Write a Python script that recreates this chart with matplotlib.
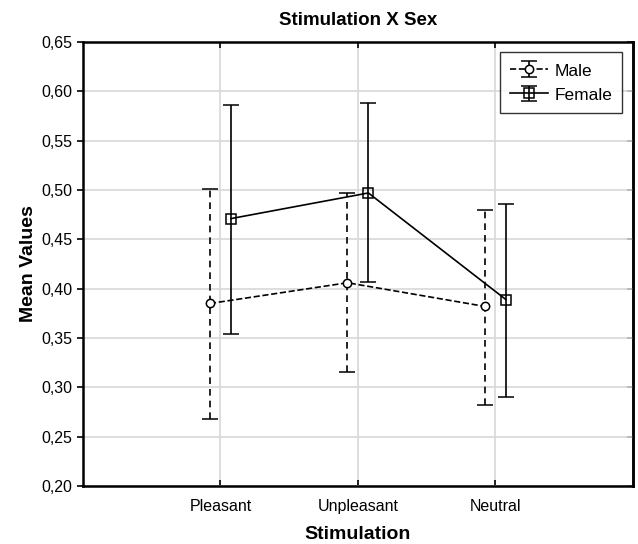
import numpy as np
import matplotlib.pyplot as plt
from matplotlib.ticker import FuncFormatter, MultipleLocator
from matplotlib.legend_handler import HandlerErrorbar
from matplotlib.container import ErrorbarContainer

plt.rcParams['font.family'] = ['Liberation Sans', 'DejaVu Sans']

categories = ['Pleasant', 'Unpleasant', 'Neutral']
male_mean = [0.385, 0.406, 0.382]
male_low = [0.268, 0.316, 0.282]
male_high = [0.501, 0.497, 0.480]
female_mean = [0.471, 0.497, 0.389]
female_low = [0.354, 0.407, 0.290]
female_high = [0.586, 0.588, 0.486]

x = np.arange(1, len(categories) + 1)
shift = 0.076

fig = plt.figure(figsize=(6.38, 5.44), dpi=100)
ax = fig.add_axes([0.130, 0.1066, 0.862, 0.8162])

m = np.array(male_mean)
f = np.array(female_mean)
male = ax.errorbar(x - shift, m,
                   yerr=[m - np.array(male_low), np.array(male_high) - m],
                   color='black', ls='--', lw=1.2, marker='o', ms=6,
                   mfc='white', mec='black', mew=1.1,
                   capsize=5.5, capthick=1.2, elinewidth=1.2, label='Male')
male[2][0].set_linestyle((0, (4, 3)))
female = ax.errorbar(x + shift, f,
                     yerr=[f - np.array(female_low), np.array(female_high) - f],
                     color='black', ls='-', lw=1.2, marker='s', ms=6.5,
                     mfc='none', mec='black', mew=1.1,
                     capsize=5.5, capthick=1.2, elinewidth=1.2, label='Female')

ax.set_xlim(0, 4)
ax.set_ylim(0.20, 0.65)
ax.set_xticks(x)
ax.set_xticklabels(categories, fontsize=11.5)
ax.yaxis.set_major_locator(MultipleLocator(0.05))
ax.yaxis.set_major_formatter(FuncFormatter(lambda v, p: f'{v:.2f}'.replace('.', ',')))
ax.tick_params(axis='y', labelsize=11.5, direction='out', length=4, width=1.2)
ax.tick_params(axis='x', direction='in', length=4, width=1.2, top=True, pad=9)

# inward ticks on the right spine, no labels
sec = ax.secondary_yaxis('right')
sec.yaxis.set_major_locator(MultipleLocator(0.05))
sec.tick_params(direction='in', length=4, width=1.2, labelright=False)
sec.spines['right'].set_linewidth(1.8)

ax.grid(True, color='#d8d8d8', lw=1.2)
ax.set_axisbelow(True)
for s in ax.spines.values():
    s.set_linewidth(1.8)

ax.set_title('Stimulation X Sex', fontsize=13.5, fontweight='bold', pad=12)
ax.set_xlabel('Stimulation', fontsize=14, fontweight='bold', labelpad=9)
ax.set_ylabel('Mean Values', fontsize=14, fontweight='bold', labelpad=3)

leg = ax.legend(loc='upper right', fontsize=12.5, frameon=True, fancybox=False,
                edgecolor='black', handlelength=2.2, handleheight=1.0,
                handletextpad=0.4, borderaxespad=0.6, labelspacing=0.45,
                borderpad=0.55,
                handler_map={ErrorbarContainer: HandlerErrorbar(yerr_size=0.45)})
leg.get_frame().set_linewidth(1.0)

fig.savefig('out.png', dpi=100)
